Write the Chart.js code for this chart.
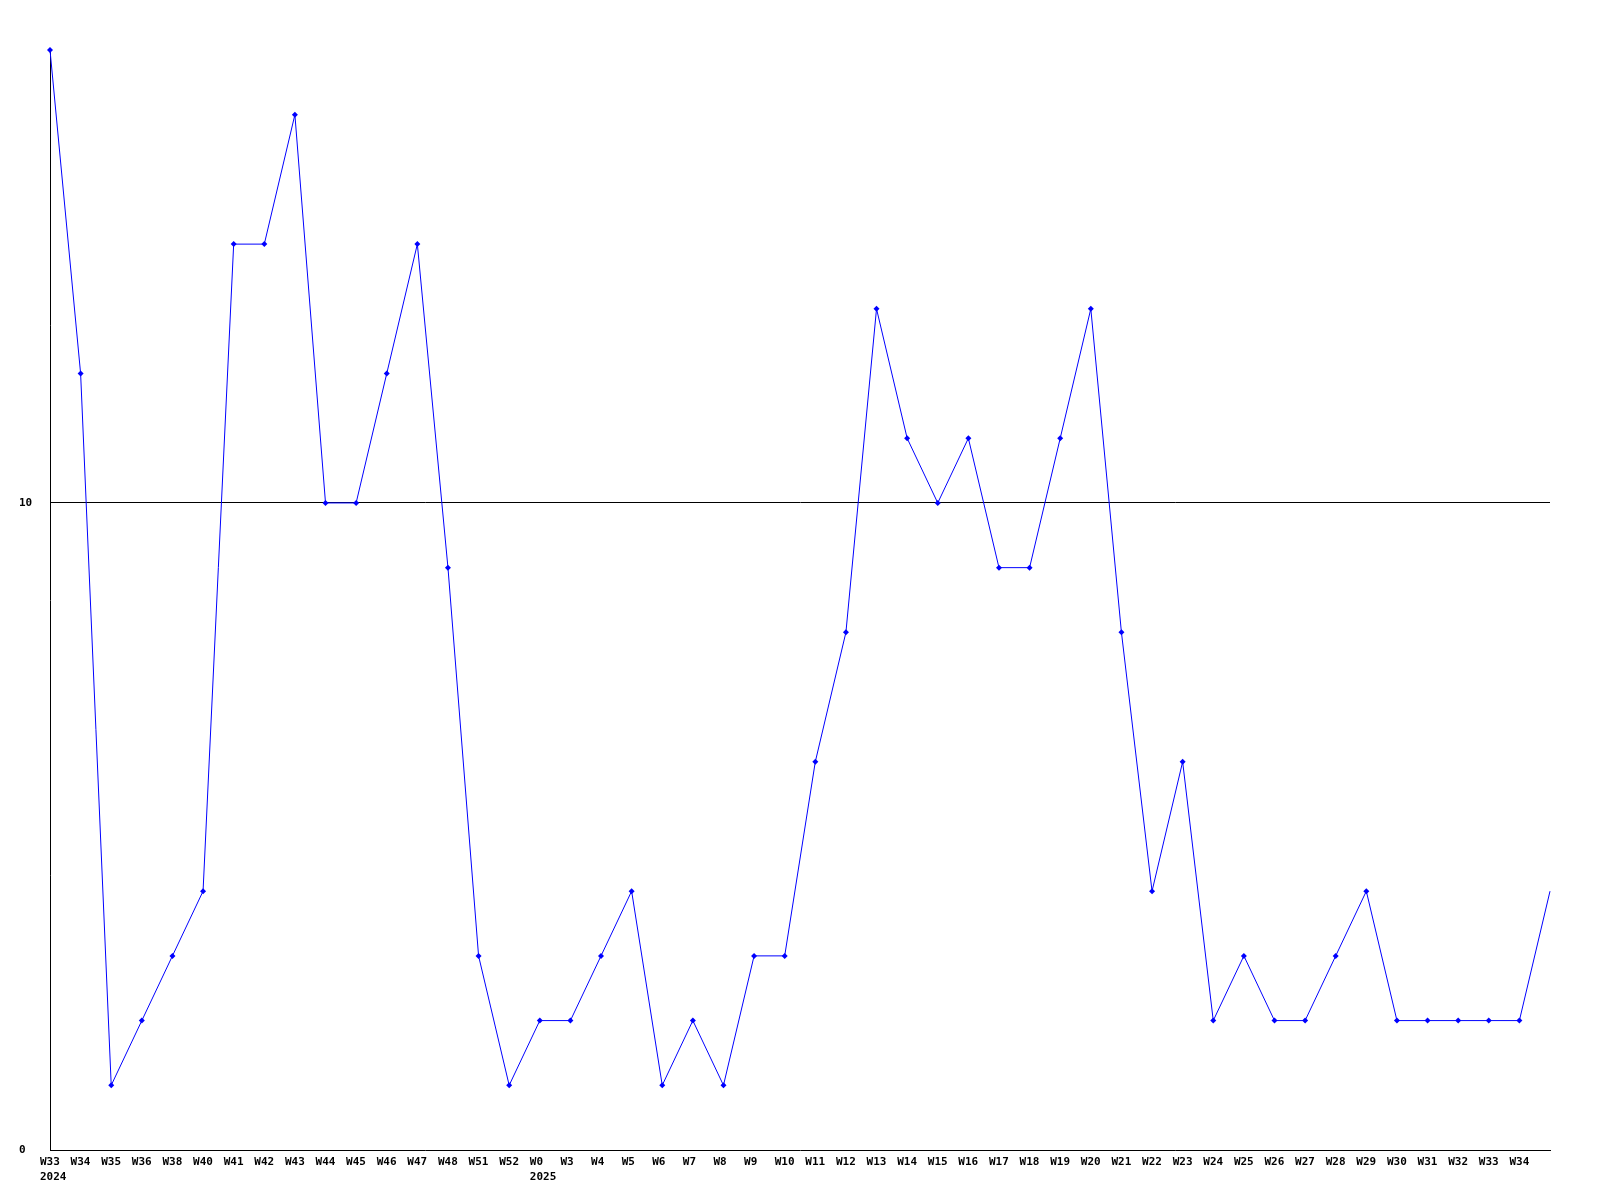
<!DOCTYPE html>
<html>
<head>
<meta charset="utf-8">
<script src="https://cdn.jsdelivr.net/npm/chart.js@4/dist/chart.umd.min.js"></script>
<style>
  html, body { margin: 0; padding: 0; background: #fff; }
  #wrap { width: 1600px; height: 1200px; }
</style>
</head>
<body>
<div id="wrap"><canvas id="weekly-line"></canvas></div>
<script>
// week labels, the year goes on a second line under the first week of each year
const weeks = ["W33","W34","W35","W36","W38","W40","W41","W42","W43","W44",
  "W45","W46","W47","W48","W51","W52","W0","W3","W4","W5",
  "W6","W7","W8","W9","W10","W11","W12","W13","W14","W15",
  "W16","W17","W18","W19","W20","W21","W22","W23","W24","W25",
  "W26","W27","W28","W29","W30","W31","W32","W33","W34",""];
const yearStarts = ["2024", "2025"];
const yearAt = [0, 16];
const counts = [17,12,1,2,3,4,14,14,16,10,
  10,12,14,9,3,1,2,2,3,4,
  1,2,1,3,3,6,8,13,11,10,
  11,9,9,11,13,8,4,6,2,3,
  2,2,3,4,2,2,2,2,2,4];
const yTicks = [0, 10];

const labels = weeks.map((w, i) => {
  const k = yearAt.indexOf(i);
  return k >= 0 ? [w, yearStarts[k]] : w;
});

const monoFont = { family: "'DejaVu Sans Mono', 'Liberation Mono', monospace", size: 11, weight: 'bold', lineHeight: 1.35 };

new Chart(document.getElementById("weekly-line"), {
  type: 'line',
  data: {
    labels: labels,
    datasets: [{
      data: counts,
      borderColor: '#0000ff',
      backgroundColor: '#0000ff',
      borderWidth: 1,
      pointStyle: 'rectRot',
      pointRadius: counts.map((v, i) => i === counts.length - 1 ? 0 : 3),
      pointBorderWidth: 0,
      tension: 0,
      fill: false,
      clip: false
    }]
  },
  options: {
    responsive: true,
    maintainAspectRatio: false,
    animation: false,
    layout: { padding: { top: 50, right: 50, left: 19, bottom: 0 } },
    plugins: {
      legend: { display: false },
      tooltip: { enabled: false }
    },
    scales: {
      x: {
        offset: false,
        grid: { display: false, drawTicks: false },
        border: { display: true, color: '#000', width: 1 },
        ticks: {
          autoSkip: false,
          maxRotation: 0,
          align: 'start',
          labelOffset: -10,
          padding: 5,
          color: '#000',
          font: monoFont
        },
        afterFit: s => { s.height = 50; }
      },
      y: {
        min: 0,
        max: 17,
        grid: {
          drawTicks: false,
          color: ctx => ctx.tick && ctx.tick.value === 10 ? '#000' : 'rgba(0,0,0,0)',
          lineWidth: 1
        },
        border: { display: true, color: '#000', width: 1 },
        ticks: {
          crossAlign: 'far',
          padding: 4,
          color: '#000',
          font: monoFont
        },
        afterBuildTicks: s => { s.ticks = yTicks.map(v => ({ value: v })); },
        afterFit: s => { s.width = 31; }
      }
    }
  }
});
</script>
</body>
</html>
